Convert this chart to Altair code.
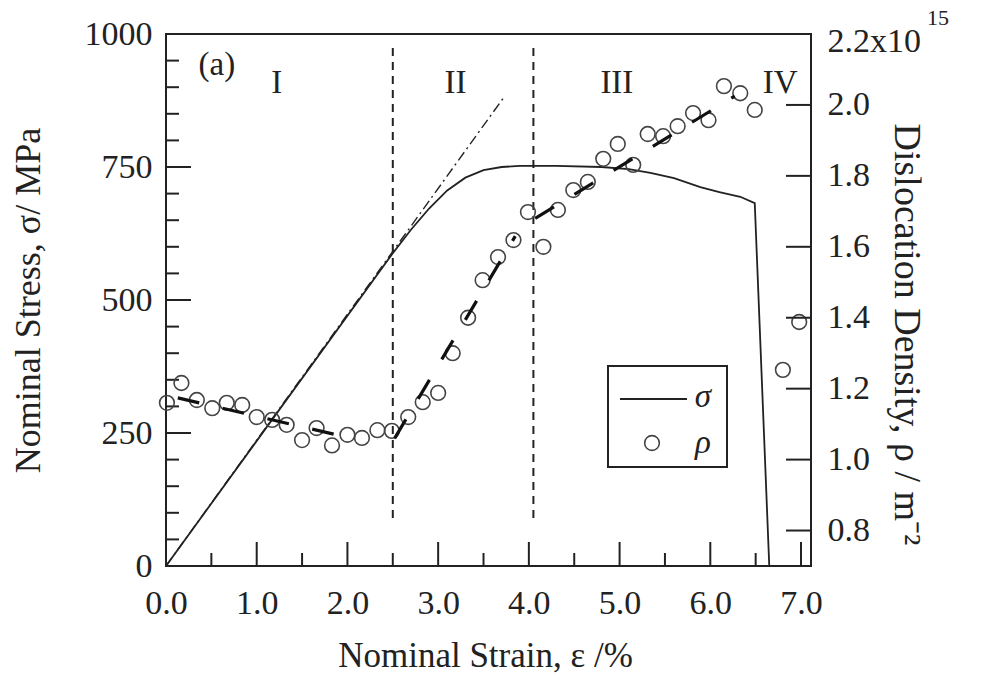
import altair as alt
import pandas as pd

# ---------------- data ----------------
# nominal stress–strain curve
strain = [0.0, 2.5, 2.7, 2.9, 3.1, 3.3, 3.5, 3.7, 3.9, 4.3, 4.8, 5.1, 5.34, 5.6, 5.89, 6.1, 6.33, 6.49, 6.65, 7.0]
stress = [0, 588, 632, 672, 706, 730, 744, 750, 752, 752, 750, 746, 739, 729, 712, 703, 694, 682, 0, 0]

# elastic extrapolation (dash-dot)
elastic_x = [0.0, 3.72]
elastic_y = [0, 880]

# dislocation density (x10^15 m^-2)
rho_x = [0.01, 0.17, 0.34, 0.51, 0.67, 0.84, 1.0, 1.17, 1.33, 1.5, 1.66, 1.83, 2.0, 2.16,
         2.33, 2.49, 2.67, 2.83, 3.0, 3.16, 3.33, 3.49, 3.66, 3.83, 3.99, 4.16, 4.32, 4.49,
         4.65, 4.82, 4.98, 5.15, 5.31, 5.48, 5.64, 5.81, 5.98, 6.15, 6.33, 6.49, 6.80, 6.98]
rho_y = [1.16, 1.216, 1.168, 1.145, 1.16, 1.154, 1.12, 1.112, 1.098, 1.055, 1.089, 1.04, 1.07, 1.061,
         1.083, 1.081, 1.12, 1.162, 1.188, 1.30, 1.40, 1.506, 1.571, 1.619, 1.698, 1.60, 1.704, 1.76,
         1.783, 1.848, 1.89, 1.831, 1.918, 1.912, 1.94, 1.977, 1.957, 2.053, 2.033, 1.986, 1.253, 1.388]

# linear fits per stage
fit_stage = ["I", "I", "II", "II", "III", "III"]
fit_x = [0.13, 2.03, 2.52, 3.85, 4.07, 6.27]
fit_y = [1.174, 1.061, 1.06, 1.63, 1.68, 2.025]

# stage boundaries
stage_bounds = [2.5, 4.05]
stage_lo = [90, 90]
stage_hi = [975, 975]

stage_labels = ["(a)", "I", "II", "III", "IV"]
stage_label_x = [0.56, 1.22, 3.19, 4.97, 6.77]
stage_label_y = [942, 908, 908, 908, 908]

# ticks
x_major = [0, 1, 2, 3, 4, 5, 6, 7]
x_minor = [0.5, 1.5, 2.5, 3.5, 4.5, 5.5, 6.5]
y_major = [0, 250, 500, 750, 1000]
y_minor = [50, 100, 150, 200, 300, 350, 400, 450, 550, 600, 650, 700, 800, 850, 900, 950]
rho_ticks = [0.8, 1.0, 1.2, 1.4, 1.6, 1.8, 2.0]
rho_labels = [0.8, 1.0, 1.2, 1.4, 1.6, 1.8, 2.0, 2.2]

# ---------------- chart ----------------
W, H = 645, 532
FONT = "Liberation Serif"
INK = "#222222"

xs = alt.Scale(domain=[0, 7.11], nice=False, zero=False)
ys = alt.Scale(domain=[0, 1000], nice=False, zero=False)
rs = alt.Scale(domain=[0.7, 2.2], nice=False, zero=False)

curve_df = pd.DataFrame({"strain": strain, "stress": stress})
elastic_df = pd.DataFrame({"strain": elastic_x, "stress": elastic_y})
rho_df = pd.DataFrame({"strain": rho_x, "rho": rho_y})
fit_df = pd.DataFrame({"stage": fit_stage, "strain": fit_x, "rho": fit_y})
bounds_df = pd.DataFrame({"x": stage_bounds, "lo": stage_lo, "hi": stage_hi})
lab_df = pd.DataFrame({"t": stage_labels, "x": stage_label_x, "y": stage_label_y})
one = pd.DataFrame({"k": [0]})

# the same x axis definition is given to every layer that uses the x scale
x_axis = alt.Axis(values=x_major, format=".1f", labelPadding=20, ticks=False, labelFlush=False,
                  domain=False, grid=False, labelFont=FONT, labelFontSize=34, labelColor=INK,
                  title="Nominal Strain, ε /%", titleFont=FONT, titleFontSize=35,
                  titleFontWeight="normal", titleColor=INK, titleX=319, titleY=89,
                  titleAlign="center", titleBaseline="middle")
y_axis = alt.Axis(values=y_major, format="d", labelPadding=14, ticks=False, labelFlush=False,
                  domain=False, grid=False, labelFont=FONT, labelFontSize=34, labelColor=INK,
                  title="Nominal Stress, σ/ MPa", titleFont=FONT, titleFontSize=36,
                  titleFontWeight="normal", titleColor=INK, titleX=-138, titleY=266,
                  titleAngle=270, titleAlign="center", titleBaseline="middle")
r_axis = alt.Axis(orient="right", values=rho_labels,
                  labelExpr="datum.value > 2.1 ? '2.2x10' : format(datum.value, '.1f')",
                  labelPadding=16, ticks=False, domain=False, grid=False,
                  labelFlush=True, labelFlushOffset=10,
                  labelFont=FONT, labelFontSize=34, labelColor=INK,
                  title="Dislocation Density, ρ / m⁻²", titleFont=FONT, titleFontSize=38,
                  titleFontWeight="normal", titleColor=INK, titleX=94, titleY=300,
                  titleAngle=90, titleAlign="center", titleBaseline="middle")


def X(field):
    return alt.X(field, scale=xs, axis=x_axis)


stress_line = alt.Chart(curve_df).mark_line(color=INK, strokeWidth=1.8).encode(
    x=X("strain:Q"),
    y=alt.Y("stress:Q", scale=ys, axis=y_axis),
    order="strain:Q",
)
elastic_line = alt.Chart(elastic_df).mark_line(color=INK, strokeWidth=1.4, strokeDash=[10, 4, 2, 4]).encode(
    x=X("strain:Q"),
    y=alt.Y("stress:Q", scale=ys, axis=None),
)
bounds = alt.Chart(bounds_df).mark_rule(color=INK, strokeWidth=2, strokeDash=[8, 6]).encode(
    x=X("x:Q"),
    y=alt.Y("lo:Q", scale=ys, axis=None),
    y2="hi:Q",
)
labels = alt.Chart(lab_df).mark_text(font=FONT, fontSize=33, color=INK).encode(
    x=X("x:Q"),
    y=alt.Y("y:Q", scale=ys, axis=None),
    text="t:N",
)
ly_major = alt.Chart(pd.DataFrame({"v": y_major})).mark_rule(color=INK, strokeWidth=2).encode(
    y=alt.Y("v:Q", scale=ys, axis=None), x=alt.value(0), x2=alt.value(25))
ly_minor = alt.Chart(pd.DataFrame({"v": y_minor})).mark_rule(color=INK, strokeWidth=2).encode(
    y=alt.Y("v:Q", scale=ys, axis=None), x=alt.value(0), x2=alt.value(13))
bx_major = alt.Chart(pd.DataFrame({"v": x_major})).mark_rule(color=INK, strokeWidth=2).encode(
    x=X("v:Q"), y=alt.value(H), y2=alt.value(H - 24))
bx_minor = alt.Chart(pd.DataFrame({"v": x_minor})).mark_rule(color=INK, strokeWidth=2).encode(
    x=X("v:Q"), y=alt.value(H), y2=alt.value(H - 13))

rho_pts = alt.Chart(rho_df).mark_point(shape="circle", filled=False, size=216, color="#444444",
                                       strokeWidth=1.6, opacity=1).encode(
    x=X("strain:Q"),
    y=alt.Y("rho:Q", scale=rs, axis=r_axis),
)
fits = alt.Chart(fit_df).mark_line(color="#111111", strokeWidth=3.2, strokeDash=[22, 24]).encode(
    x=X("strain:Q"),
    y=alt.Y("rho:Q", scale=rs, axis=None),
    detail="stage:N",
)
r_ticks = alt.Chart(pd.DataFrame({"v": rho_ticks})).mark_rule(color=INK, strokeWidth=2).encode(
    y=alt.Y("v:Q", scale=rs, axis=None), x=alt.value(W - 25), x2=alt.value(W))

# exponent of the top right tick label
sup = alt.Chart(one).mark_text(font=FONT, fontSize=22, color=INK).encode(
    x=alt.value(772), y=alt.value(-16), text=alt.value("15"))

# legend box
leg_box = alt.Chart(one).mark_rect(fill="white", stroke=INK, strokeWidth=2).encode(
    x=alt.value(442), x2=alt.value(561), y=alt.value(332), y2=alt.value(433))
leg_line = alt.Chart(one).mark_rule(color=INK, strokeWidth=2).encode(
    x=alt.value(454), x2=alt.value(521), y=alt.value(365))
leg_pt = alt.Chart(one).mark_point(shape="circle", filled=False, size=216, color="#444444",
                                   strokeWidth=1.6, opacity=1).encode(
    x=alt.value(486), y=alt.value(409))
leg_t1 = alt.Chart(one).mark_text(font=FONT, fontSize=33, fontStyle="italic", color=INK).encode(
    x=alt.value(537), y=alt.value(363), text=alt.value("σ"))
leg_t2 = alt.Chart(one).mark_text(font=FONT, fontSize=33, fontStyle="italic", color=INK).encode(
    x=alt.value(537), y=alt.value(409), text=alt.value("ρ"))

chart = alt.layer(
    stress_line, elastic_line, bounds, labels, ly_major, ly_minor, bx_major, bx_minor,
    rho_pts, fits, r_ticks, sup, leg_box, leg_line, leg_pt, leg_t1, leg_t2,
).resolve_scale(
    y="independent"
).properties(
    width=W, height=H,
    padding={"left": 166, "top": 34, "right": 171, "bottom": 114},
    autosize=alt.AutoSizeParams(type="none"),
    background="white",
).configure_view(stroke=INK, strokeWidth=2)

chart.save("out.html", embed_options={"renderer": "svg", "actions": False})
